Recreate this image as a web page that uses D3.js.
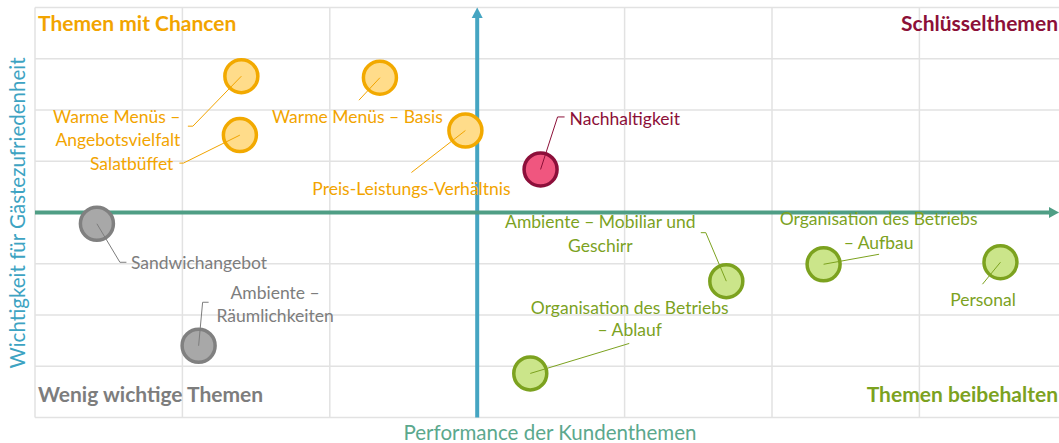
<!DOCTYPE html>
<html>
<head>
<meta charset="utf-8">
<script src="https://cdn.jsdelivr.net/npm/d3@7"></script>
<style>
  body { margin: 0; background: #fff; }
  text { font-family: Lato, "Open Sans", sans-serif; }
</style>
</head>
<body>
<script>

// topics (performance = x, importance = y), axes cross at 0
var topics = ["Warme Menüs – Angebotsvielfalt", "Warme Menüs – Basis", "Salatbüffet",
    "Preis-Leistungs-Verhältnis", "Nachhaltigkeit", "Sandwichangebot",
    "Ambiente – Räumlichkeiten", "Organisation des Betriebs – Ablauf",
    "Ambiente – Mobiliar und Geschirr", "Organisation des Betriebs – Aufbau", "Personal"];
var performance = [-1.60, -0.66, -1.61, -0.08, 0.43, -2.58, -1.89, 0.36, 1.69, 2.35, 3.55];
var importance = [2.66, 2.63, 1.51, 1.60, 0.84, -0.22, -2.60, -3.14, -1.34, -1.01, -0.97];
var quadrant = ["chance", "chance", "chance", "chance", "key", "low", "low", "keep", "keep", "keep", "keep"];

var xTicks = [-3, -2, -1, 0, 1, 2, 3, 4];
var yTicks = [-4, -3, -2, -1, 0, 1, 2, 3, 4];

var quadrantTitles = {
    chance: "Themen mit Chancen",
    key: "Schlüsselthemen",
    low: "Wenig wichtige Themen",
    keep: "Themen beibehalten"
};

var colors = {
    chance: { stroke: "#f2a900", fill: "#ffdc8a", text: "#f2a400" },
    key:    { stroke: "#8c0f3a", fill: "#f0567f", text: "#8c1038" },
    low:    { stroke: "#808080", fill: "#a8a8a8", text: "#7d7d7d" },
    keep:   { stroke: "#7ca21f", fill: "#cbe58a", text: "#7ca21f" }
};

// label placement: text lines, anchor, offsets from the point (px), leader path
var labelLayout = [
    { lines: ["Warme Menüs –", "Angebotsvielfalt"], anchor: "end", dx: -61, dy: [41, 63.5], lead: [[-48.5, 50], [-53.5, 50]] },
    { lines: ["Warme Menüs – Basis"], anchor: "middle", dx: -22.5, dy: [39], lead: [[-21, 22.5]] },
    { lines: ["Salatbüffet"], anchor: "end", dx: -66.5, dy: [29], lead: [[-56.5, 28], [-60.5, 28]] },
    { lines: ["Preis-Leistungs-Verhältnis"], anchor: "middle", dx: -54, dy: [58], lead: [[-54, 42]] },
    { lines: ["Nachhaltigkeit"], anchor: "start", dx: 29, dy: [-51], lead: [[17, -52.5], [24, -52.5]] },
    { lines: ["Sandwichangebot"], anchor: "start", dx: 34, dy: [39.5], lead: [[23, 38.5], [29.5, 38.5]] },
    { lines: ["Ambiente –", "Räumlichkeiten"], anchor: "middle", dx: 76.5, dy: [-52.5, -29.5], lead: [[4, -43.5], [10, -43.5]] },
    { lines: ["Organisation des Betriebs", "– Ablauf"], anchor: "middle", dx: 99.5, dy: [-66, -43.5], lead: [[99, -30]] },
    { lines: ["Ambiente – Mobiliar und", "Geschirr"], anchor: "middle", dx: -126, dy: [-59, -35], lead: [[-20.5, -48.5], [-25.5, -48.5]] },
    { lines: ["Organisation des Betriebs", "– Aufbau"], anchor: "middle", dx: 55, dy: [-45.5, -21.5], lead: [[55.5, -10]] },
    { lines: ["Personal"], anchor: "middle", dx: -17.5, dy: [37.5], lead: [[-18, 22]] }
];

var width = 1059,
    height = 443,
    plotLeft = 35,
    plotTop = 7.5,
    plotBottom = 417.5,
    radius = 16.5;

var x = d3.scaleLinear().domain([-3, 4]).range([plotLeft, plotLeft + 7 * 147.4]);
var y = d3.scaleLinear().domain([-4, 4]).range([plotBottom, plotTop]);

var svg = d3.select("body")
    .append("svg")
    .attr("width", width)
    .attr("height", height);

// grid
svg.append("g")
    .selectAll("line")
    .data(xTicks)
    .enter()
    .append("line")
    .attr("x1", function(d) { return x(d); })
    .attr("x2", function(d) { return x(d); })
    .attr("y1", plotTop)
    .attr("y2", plotBottom)
    .attr("stroke", "#e2e2e2")
    .attr("stroke-width", 1.5);

svg.append("g")
    .selectAll("line")
    .data(yTicks)
    .enter()
    .append("line")
    .attr("x1", plotLeft)
    .attr("x2", width)
    .attr("y1", function(d) { return y(d); })
    .attr("y2", function(d) { return y(d); })
    .attr("stroke", "#e2e2e2")
    .attr("stroke-width", 1.5);

// axes with arrows
var x0 = x(0), y0 = y(0);

svg.append("line")
    .attr("x1", x0).attr("x2", x0)
    .attr("y1", plotBottom).attr("y2", 16)
    .attr("stroke", "#45a5c2")
    .attr("stroke-width", 4);
svg.append("path")
    .attr("d", "M" + (x0 - 5.5) + ",18L" + x0 + ",7.5L" + (x0 + 5.5) + ",18Z")
    .attr("fill", "#45a5c2");

svg.append("line")
    .attr("x1", plotLeft).attr("x2", width - 8)
    .attr("y1", y0).attr("y2", y0)
    .attr("stroke", "#4f9e85")
    .attr("stroke-width", 4);
svg.append("path")
    .attr("d", "M" + (width - 10) + "," + (y0 - 5.5) + "L" + width + "," + y0 + "L" + (width - 10) + "," + (y0 + 5.5) + "Z")
    .attr("fill", "#4f9e85");

// quadrant titles
var qt = [
    { q: "chance", x: plotLeft + 3, y: 24, anchor: "start" },
    { q: "key", x: width - 1, y: 24, anchor: "end" },
    { q: "low", x: plotLeft + 3, y: 395, anchor: "start" },
    { q: "keep", x: width - 1, y: 395, anchor: "end" }
];
svg.append("g")
    .selectAll("text")
    .data(qt)
    .enter()
    .append("text")
    .attr("x", function(d) { return d.x; })
    .attr("y", function(d) { return d.y; })
    .attr("dy", "0.35em")
    .attr("text-anchor", function(d) { return d.anchor; })
    .attr("font-size", 21)
    .attr("font-weight", "bold")
    .attr("fill", function(d) { return colors[d.q].text; })
    .text(function(d) { return quadrantTitles[d.q]; });

// axis titles
svg.append("text")
    .attr("x", 550)
    .attr("y", 433)
    .attr("dy", "0.35em")
    .attr("text-anchor", "middle")
    .attr("font-size", 20.5)
    .attr("fill", "#5ba88d")
    .text("Performance der Kundenthemen");

svg.append("text")
    .attr("transform", "translate(18,213) rotate(-90)")
    .attr("dy", "0.35em")
    .attr("text-anchor", "middle")
    .attr("font-size", 20.5)
    .attr("fill", "#3da3c2")
    .text("Wichtigkeit für Gästezufriedenheit");

// points
var pts = topics.map(function(t, i) {
    return { name: t, px: x(performance[i]), py: y(importance[i]), q: quadrant[i], lab: labelLayout[i] };
});

var pg = svg.append("g")
    .selectAll("g")
    .data(pts)
    .enter()
    .append("g")
    .attr("transform", function(d) { return "translate(" + d.px + "," + d.py + ")"; });

pg.append("circle")
    .attr("r", radius)
    .attr("fill", function(d) { return colors[d.q].fill; })
    .attr("stroke", function(d) { return colors[d.q].stroke; })
    .attr("stroke-width", 3.5);

pg.append("path")
    .attr("d", function(d) {
        return "M0,0" + d.lab.lead.map(function(p) { return "L" + p[0] + "," + p[1]; }).join("");
    })
    .attr("fill", "none")
    .attr("stroke", function(d) { return colors[d.q].text; })
    .attr("stroke-width", 1);

pg.each(function(d) {
    var g = d3.select(this);
    d.lab.lines.forEach(function(line, k) {
        g.append("text")
            .attr("x", d.lab.dx)
            .attr("y", d.lab.dy[k])
            .attr("dy", "0.35em")
            .attr("text-anchor", d.lab.anchor)
            .attr("font-size", 17.5)
            .attr("fill", colors[d.q].text)
            .text(line);
    });
});

</script>
</body>
</html>
